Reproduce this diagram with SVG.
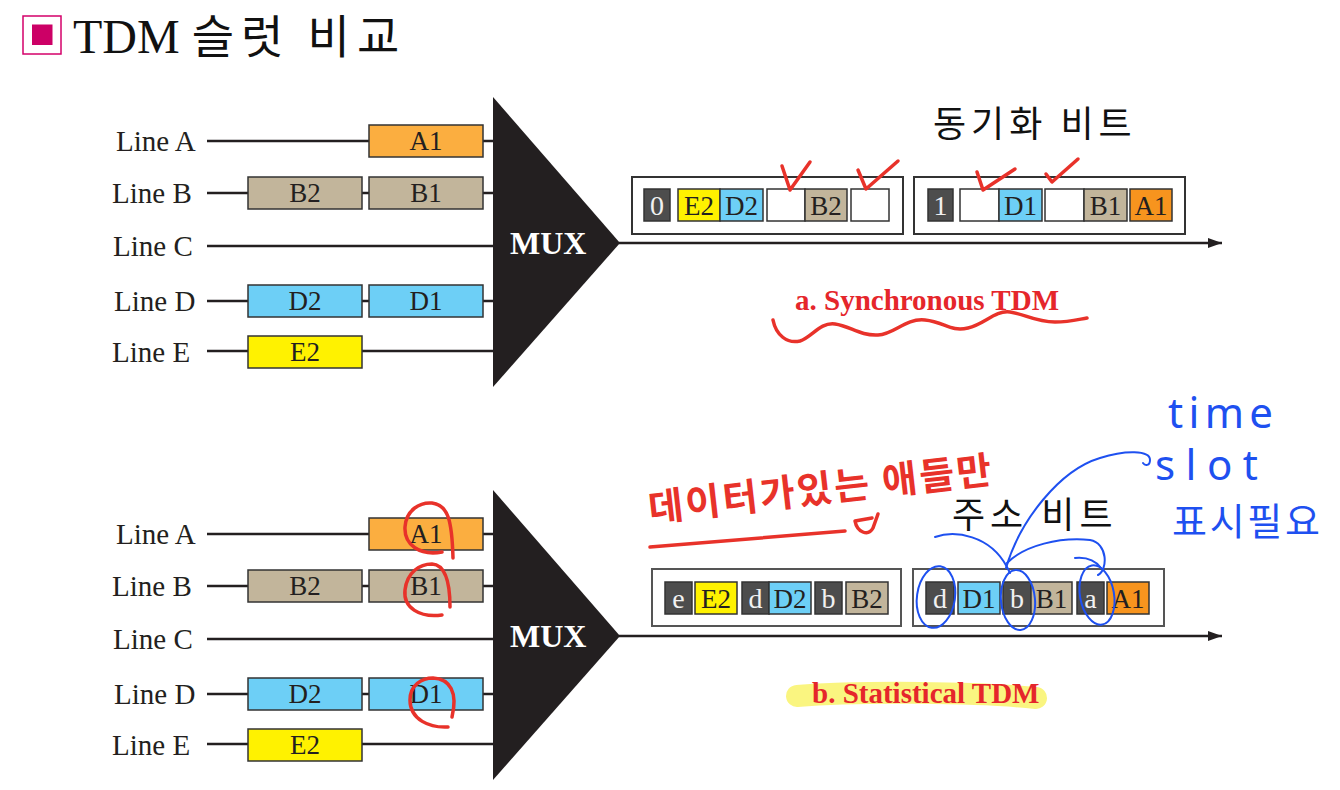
<svg xmlns="http://www.w3.org/2000/svg" width="1340" height="790" viewBox="0 0 1340 790">
<style>
.lbl{font-family:"Liberation Serif",serif;font-size:29px;fill:#231f20}
.bt{font-family:"Liberation Serif",serif;font-size:27px;fill:#231f20;text-anchor:middle}
.wt{font-family:"Liberation Serif",serif;font-size:28px;fill:#f2f2f2;text-anchor:middle}
.ln{stroke:#231f20;stroke-width:2.5;fill:none}
.box{stroke:#333;stroke-width:1.5}
.frm{fill:#fff;stroke:#333;stroke-width:2}
.frm2{fill:#fff;stroke:#555;stroke-width:2}
.ko{font-family:"Noto Sans CJK KR",sans-serif;font-size:36px;fill:#111;letter-spacing:5px}
.mux{fill:#231f20}
.muxt{font-family:"Liberation Serif",serif;font-size:32px;font-weight:bold;fill:#fff}
.cap{font-family:"Liberation Serif",serif;font-size:29px;font-weight:bold;fill:#e5262b}
.red{stroke:#e8322a;stroke-width:3.5;fill:none;stroke-linecap:round;stroke-linejoin:round}
.blue{stroke:#1e50f0;stroke-width:2;fill:none;stroke-linecap:round}
.redt{font-family:"Noto Sans CJK KR",sans-serif;font-size:38px;font-weight:bold;fill:#e8322a}
.bluet{font-family:"Noto Sans","Noto Sans CJK KR",sans-serif;font-size:42px;fill:#1e50f0}
.A{fill:#fbae40}.B{fill:#c2b59b}.D{fill:#6dcff6}.E{fill:#fff200}.K{fill:#4d4d4d}.W{fill:#fff}.O{fill:#f7941e}
</style>
<defs>
<marker id="arr" markerUnits="userSpaceOnUse" markerWidth="14" markerHeight="10" refX="14" refY="5" orient="auto">
<path d="M0,0 L14,5 L0,10 z" fill="#231f20"/>
</marker>
</defs>
<rect width="1340" height="790" fill="#fff"/>

<g id="title">
<rect x="23" y="16" width="38" height="38" fill="none" stroke="#d4006a" stroke-width="1.5"/>
<rect x="32" y="24.5" width="20.5" height="20.5" fill="#cc0066"/>
<text x="73" y="53" style="font-family:'Liberation Serif','Noto Sans CJK KR',serif;font-size:48px;fill:#111">TDM <tspan style="font-family:'Noto Sans CJK KR',sans-serif;font-size:46px;letter-spacing:7px">슬럿 비교</tspan></text>
</g>

<!-- ===== Top: Synchronous ===== -->
<g id="sync-inputs">
<g id="lineA"><text class="lbl" x="116" y="151">Line A</text><path class="ln" d="M207,141 H493"/><rect class="box A" x="369" y="125" width="114" height="32"/><text class="bt" x="426" y="150">A1</text></g>
<g id="lineB"><text class="lbl" x="112" y="203">Line B</text><path class="ln" d="M207,193 H493"/><rect class="box B" x="248" y="177" width="114" height="32"/><text class="bt" x="305" y="202">B2</text><rect class="box B" x="369" y="177" width="114" height="32"/><text class="bt" x="426" y="202">B1</text></g>
<g id="lineC"><text class="lbl" x="113" y="256">Line C</text><path class="ln" d="M207,246 H493"/></g>
<g id="lineD"><text class="lbl" x="114" y="311">Line D</text><path class="ln" d="M207,301 H493"/><rect class="box D" x="248" y="285" width="114" height="32"/><text class="bt" x="305" y="310">D2</text><rect class="box D" x="369" y="285" width="114" height="32"/><text class="bt" x="426" y="310">D1</text></g>
<g id="lineE"><text class="lbl" x="112" y="362">Line E</text><path class="ln" d="M207,351 H493"/><rect class="box E" x="248" y="336" width="114" height="32"/><text class="bt" x="305" y="361">E2</text></g>
</g>
<g id="mux1"><path class="mux" d="M493,97 L493,387 L620,243 z"/><text class="muxt" x="510" y="254">MUX</text></g>

<g id="sync-frames">
<rect class="frm" x="632" y="177" width="271" height="57"/>
<rect class="box K" x="644" y="189" width="26" height="32"/><text class="wt" x="657" y="215">0</text>
<rect class="box E" x="678" y="189" width="42" height="32"/><text class="bt" x="699" y="215">E2</text>
<rect class="box D" x="720" y="189" width="43" height="32"/><text class="bt" x="741.5" y="215">D2</text>
<rect class="box W" x="767" y="189" width="38" height="32"/>
<rect class="box B" x="805" y="189" width="42" height="32"/><text class="bt" x="826" y="215">B2</text>
<rect class="box W" x="851" y="189" width="38" height="32"/>
<rect class="frm" x="914" y="177" width="271" height="57"/>
<rect class="box K" x="928" y="189" width="25" height="32"/><text class="wt" x="940.5" y="215">1</text>
<rect class="box W" x="960" y="189" width="39" height="32"/>
<rect class="box D" x="999" y="189" width="43" height="32"/><text class="bt" x="1020.5" y="215">D1</text>
<rect class="box W" x="1045" y="189" width="39" height="32"/>
<rect class="box B" x="1084" y="189" width="43" height="32"/><text class="bt" x="1105.5" y="215">B1</text>
<rect class="box O" x="1130" y="189" width="42" height="32"/><text class="bt" x="1151" y="215">A1</text>
</g>
<g id="sync-labels">
<text class="ko" x="933" y="137">동기화 비트</text>
<text class="cap" x="795" y="310">a. Synchronous TDM</text>
</g>

<!-- ===== Bottom: Statistical ===== -->
<g id="stat-inputs" transform="translate(0,393)">
<g id="lineA2"><text class="lbl" x="116" y="151">Line A</text><path class="ln" d="M207,141 H493"/><rect class="box A" x="369" y="125" width="114" height="32"/><text class="bt" x="426" y="150">A1</text></g>
<g id="lineB2"><text class="lbl" x="112" y="203">Line B</text><path class="ln" d="M207,193 H493"/><rect class="box B" x="248" y="177" width="114" height="32"/><text class="bt" x="305" y="202">B2</text><rect class="box B" x="369" y="177" width="114" height="32"/><text class="bt" x="426" y="202">B1</text></g>
<g id="lineC2"><text class="lbl" x="113" y="256">Line C</text><path class="ln" d="M207,246 H493"/></g>
<g id="lineD2"><text class="lbl" x="114" y="311">Line D</text><path class="ln" d="M207,301 H493"/><rect class="box D" x="248" y="285" width="114" height="32"/><text class="bt" x="305" y="310">D2</text><rect class="box D" x="369" y="285" width="114" height="32"/><text class="bt" x="426" y="310">D1</text></g>
<g id="lineE2"><text class="lbl" x="112" y="362">Line E</text><path class="ln" d="M207,351 H493"/><rect class="box E" x="248" y="336" width="114" height="32"/><text class="bt" x="305" y="361">E2</text></g>
<g id="mux2"><path class="mux" d="M493,97 L493,387 L620,243 z"/><text class="muxt" x="510" y="254">MUX</text></g>
</g>

<g id="stat-frames">
<rect class="frm2" x="652" y="569" width="249" height="57"/>
<rect class="box K" x="665" y="582" width="27" height="32"/><text class="wt" x="678.5" y="608">e</text>
<rect class="box E" x="695" y="582" width="42" height="32"/><text class="bt" x="716" y="608">E2</text>
<rect class="box K" x="742" y="582" width="27" height="32"/><text class="wt" x="755.5" y="608">d</text>
<rect class="box D" x="769" y="582" width="42" height="32"/><text class="bt" x="790" y="608">D2</text>
<rect class="box K" x="815" y="582" width="27" height="32"/><text class="wt" x="828.5" y="608">b</text>
<rect class="box B" x="846" y="582" width="42" height="32"/><text class="bt" x="867" y="608">B2</text>
<rect class="frm2" x="913" y="569" width="251" height="57"/>
<rect class="box K" x="926" y="582" width="28" height="32"/><text class="wt" x="940" y="608">d</text>
<rect class="box D" x="958" y="582" width="42" height="32"/><text class="bt" x="979" y="608">D1</text>
<rect class="box K" x="1003" y="582" width="28" height="32"/><text class="wt" x="1017" y="608">b</text>
<rect class="box B" x="1031" y="582" width="41" height="32"/><text class="bt" x="1051.5" y="608">B1</text>
<rect class="box K" x="1077" y="582" width="27" height="32"/><text class="wt" x="1090.5" y="608">a</text>
<rect class="box O" x="1107" y="582" width="42" height="32"/><text class="bt" x="1128" y="608">A1</text>
</g>
<g id="stat-labels">
<text class="ko" x="952" y="528">주소 비트</text>
<path d="M797,696 C860,691 980,692 1036,698" stroke="#f9f36a" stroke-opacity="0.85" stroke-width="22" stroke-linecap="round" fill="none"/>
<text class="cap" x="812" y="703">b. Statistical TDM</text>
</g>

<g id="connectors">
<path class="ln" d="M619,243 H1222" marker-end="url(#arr)"/>
<path class="ln" d="M619,636 H1222" marker-end="url(#arr)"/>
</g>

<!-- ===== handwritten annotations ===== -->
<g id="red-notes">
<path class="red" d="M782,166 L790,190 L810,162"/>
<path class="red" d="M858,170 L866,189 L898,161"/>
<path class="red" d="M977,172 L983,190 L1015,169"/>
<path class="red" d="M1046,174 L1052,182 L1078,159"/>
<path class="red" d="M773,320 C776,335 787,344 800,341 C812,337 820,322 835,324 C850,326 860,336 878,335 C895,334 905,318 925,320 C945,322 950,332 968,328 C985,324 995,310 1010,312 C1025,314 1035,322 1055,322 C1070,322 1080,319 1087,318"/>
<path class="red" d="M442,552 C420,556 404,545 405,527 C406,510 420,502 432,503 C448,505 452,520 453,558"/>
<path class="red" d="M442,615 C420,618 403,608 405,590 C407,572 420,564 432,564 C448,565 450,590 450,607"/>
<path class="red" d="M448,727 C430,728 410,720 410,700 C410,685 422,678 433,678 C450,679 458,692 452,717"/>
<text class="redt" x="650" y="522" transform="rotate(-6.5 650 522)" textLength="345">데이터가있는 애들만</text>
<path class="red" d="M650,547 L845,531"/>
<path class="red" d="M855,521 C857,532 868,537 873,528 L878,514 M855,521 L872,518"/>
</g>
<g id="blue-notes">
<path class="blue" d="M935,537 C955,530 990,535 1007,567 L1010,573"/>
<path class="blue" d="M1006,568 C1020,520 1060,470 1100,458 C1125,450 1150,450 1150,460 C1150,466 1145,466 1143,463"/>
<path class="blue" d="M1007,563 C1025,545 1060,537 1090,540 C1108,543 1108,570 1098,575"/>
<path class="blue" d="M1075,558 C1085,557 1095,560 1101,568"/>
<ellipse class="blue" cx="936" cy="597" rx="19" ry="31" transform="rotate(8 936 597)"/>
<ellipse class="blue" cx="1018" cy="600" rx="17" ry="30" transform="rotate(-5 1018 600)"/>
<ellipse class="blue" cx="1097" cy="595" rx="17" ry="30" transform="rotate(-10 1097 595)"/>
<text class="bluet" x="1168" y="428" textLength="105">time</text>
<text class="bluet" x="1155" y="480" textLength="103">slot</text>
<text class="bluet" x="1172" y="535" style="font-family:'Noto Sans CJK KR',sans-serif;font-size:38px" textLength="148">표시필요</text>
</g>
</svg>
